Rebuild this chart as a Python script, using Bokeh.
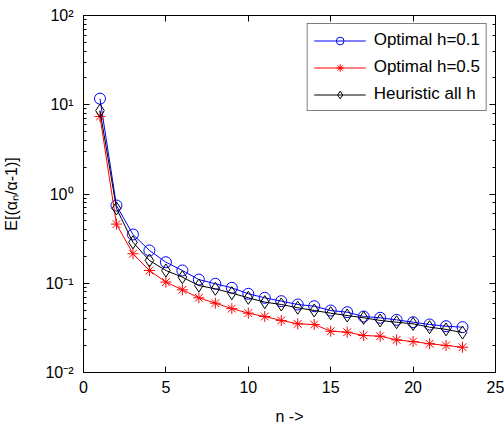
from bokeh.plotting import figure
from bokeh.models import Range1d, LinearAxis, LogAxis, CustomJSTickFormatter, FixedTicker, Legend
from bokeh.embed import file_html
from bokeh.resources import INLINE

n = list(range(1, 24))
optimal_h01 = [11.7, 0.743, 0.352, 0.233, 0.172, 0.139, 0.110, 0.0986, 0.0889, 0.0762,
               0.0687, 0.063, 0.0578, 0.0553, 0.0495, 0.0474, 0.0424, 0.041, 0.0389,
               0.0366, 0.0345, 0.033, 0.0322]
optimal_h05 = [7.4, 0.46, 0.214, 0.139, 0.103, 0.0844, 0.0687, 0.0598, 0.052, 0.0462,
               0.0424, 0.0383, 0.0351, 0.0345, 0.029, 0.0283, 0.026, 0.0255, 0.0232,
               0.0222, 0.021, 0.0201, 0.0192]
heuristic = [8.6, 0.69, 0.288, 0.18, 0.139, 0.117, 0.0943, 0.0867, 0.0774, 0.0687,
             0.0614, 0.0578, 0.0531, 0.0495, 0.0462, 0.0435, 0.041, 0.0383, 0.0366,
             0.0351, 0.0322, 0.0304, 0.028]
x_ticks = [0, 5, 10, 15, 20, 25]

FONT = "Liberation Sans"
FS = "16px"

p = figure(width=504, height=427, y_axis_type="log", output_backend="svg",
           toolbar_location=None, x_range=Range1d(0, 25), y_range=Range1d(0.01, 100),
           min_border_left=82, min_border_right=9, min_border_top=15, min_border_bottom=55)
p.background_fill_color = "white"
p.border_fill_color = "white"
p.outline_line_color = "black"
p.outline_line_width = 1
p.grid.visible = False

sup_code = """
const sup = {'-':'\u207B','0':'\u2070','1':'\u00B9','2':'\u00B2','3':'\u00B3','4':'\u2074','5':'\u2075','6':'\u2076','7':'\u2077','8':'\u2078','9':'\u2079'};
const e = Math.round(Math.log10(tick));
return '10' + String(e).split('').map(c => sup[c]).join('');
"""

def style_axis(ax, labels=True):
    ax.axis_line_color = "black"
    ax.major_tick_in = 6
    ax.major_tick_out = 0
    ax.minor_tick_in = 3
    ax.minor_tick_out = 0
    ax.major_tick_line_color = "black"
    ax.minor_tick_line_color = "black"
    ax.major_label_text_font = FONT
    if labels:
        ax.major_label_text_font_size = FS
        ax.major_label_text_color = "black"
    else:
        ax.major_label_text_font_size = "1px"
        ax.major_label_text_color = None
    ax.axis_label_text_font = FONT
    ax.axis_label_text_font_size = FS
    ax.axis_label_text_font_style = "normal"
    ax.axis_label_text_color = "black"

# bottom x axis
xa = p.xaxis[0]
xa.ticker = FixedTicker(ticks=x_ticks)
style_axis(xa)
xa.minor_tick_line_color = None
xa.major_label_standoff = 8
xa.axis_label = "n ->"
xa.axis_label_standoff = 12

# left y axis
ya = p.yaxis[0]
style_axis(ya)
ya.formatter = CustomJSTickFormatter(code=sup_code)
ya.major_label_standoff = 10
ya.axis_label = "E[(\u03b1\u2099/\u03b1-1)]"
ya.axis_label_standoff = 22

# top and right axes (ticks only)
top = LinearAxis(ticker=FixedTicker(ticks=x_ticks))
style_axis(top, labels=False)
top.minor_tick_line_color = None
top.major_label_standoff = 0
p.add_layout(top, "above")

right = LogAxis()
style_axis(right, labels=False)
right.major_label_standoff = 0
p.add_layout(right, "right")

l1 = p.line(n, optimal_h01, line_color="blue", line_width=1)
s1 = p.scatter(n, optimal_h01, marker="circle", size=11, line_color="blue",
               fill_color=None, line_width=1)
l2 = p.line(n, optimal_h05, line_color="red", line_width=1)
s2 = p.scatter(n, optimal_h05, marker="asterisk", size=11, line_color="red", line_width=1)
l3 = p.line(n, heuristic, line_color="black", line_width=1)
s3 = p.scatter(n, heuristic, marker="diamond", size=13, line_color="black",
               fill_color=None, line_width=1)

legend = Legend(items=[("Optimal h=0.1", [l1, s1]),
                       ("Optimal h=0.5", [l2, s2]),
                       ("Heuristic all h", [l3, s3])],
                location="top_right")
legend.border_line_color = "black"
legend.border_line_width = 1
legend.background_fill_alpha = 1
legend.label_text_font = FONT
legend.label_text_font_size = "17px"
legend.label_text_color = "black"
legend.glyph_width = 52
legend.glyph_height = 19
legend.label_height = 19
legend.spacing = 7
legend.padding = 6
legend.margin = 8
legend.label_standoff = 8
p.add_layout(legend, "center")

open("out.html", "w").write(file_html(p, INLINE))
